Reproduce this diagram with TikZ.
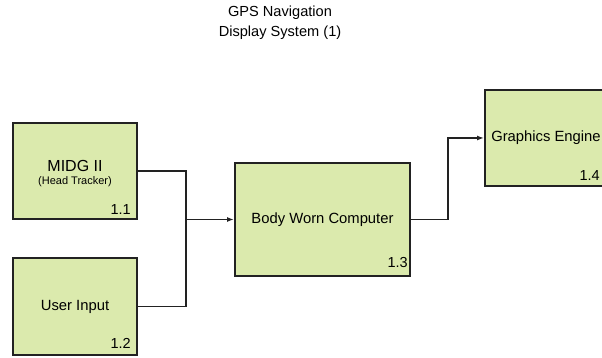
\documentclass[tikz,border=0pt]{standalone}
\usepackage{fontspec}
\setmainfont{Liberation Sans}
\usetikzlibrary{arrows.meta, positioning, calc}
\definecolor{blockgreen}{HTML}{DBEAAD}
\definecolor{blockborder}{HTML}{222222}

\begin{document}
\begin{tikzpicture}[x=1pt, y=-1pt, >={Latex[length=7pt,width=5pt]},
    block/.style={draw=blockborder, line width=1.9pt, fill=blockgreen,
      inner sep=0pt, font=\fontsize{14.8}{17}\selectfont, align=center},
    blocknum/.style={anchor=east, inner sep=0pt,
      font=\fontsize{14.5}{17}\selectfont},
    link/.style={line width=1.9pt, blockborder}]
        \clip (0,0) rectangle (602,358);
        % title
        \node[align=center, font=\fontsize{14.6}{20}\selectfont] (title) at (280,23)
          {GPS Navigation\\Display System (1)};
        % blocks
        \node[block, minimum width=124pt, minimum height=96pt] (midg) at (75,171) {};
        \node[align=center, inner sep=0pt] (midgtext) at (75,173.5)
          {\fontsize{16}{16}\selectfont MIDG II\\[1pt]{\fontsize{11}{11}\selectfont (Head Tracker)}};
        \node[block, minimum width=124pt, minimum height=97pt] (user) at (75,306.5)
          {User Input};
        \node[block, minimum width=175pt, minimum height=113pt] (bwc) at (322.5,219.5)
          {Body Worn Computer};
        \node[block, minimum width=122pt, minimum height=96pt] (gfx) at (546,138)
          {Graphics Engine};
        \node[blocknum] at ($(midg.south east)+(-7,-10)$) {1.1};
        \node[blocknum] at ($(user.south east)+(-7,-13)$) {1.2};
        \node[blocknum] at ($(bwc.south east)+(-3,-14)$) {1.3};
        \node[blocknum] at ($(gfx.south east)+(-8,-11)$) {1.4};
        % connectors
        \coordinate (merge) at (186,219.5);
        \coordinate (split) at (448,219.5);
        \draw[link] (midg.east) -| (merge);
        \draw[link] (user.east) -| (merge);
        \draw[link, ->] (merge) -- (bwc.west);
        \draw[link, ->] (bwc.east) -- (split) |- (gfx.west);
      \end{tikzpicture}
\end{document}
